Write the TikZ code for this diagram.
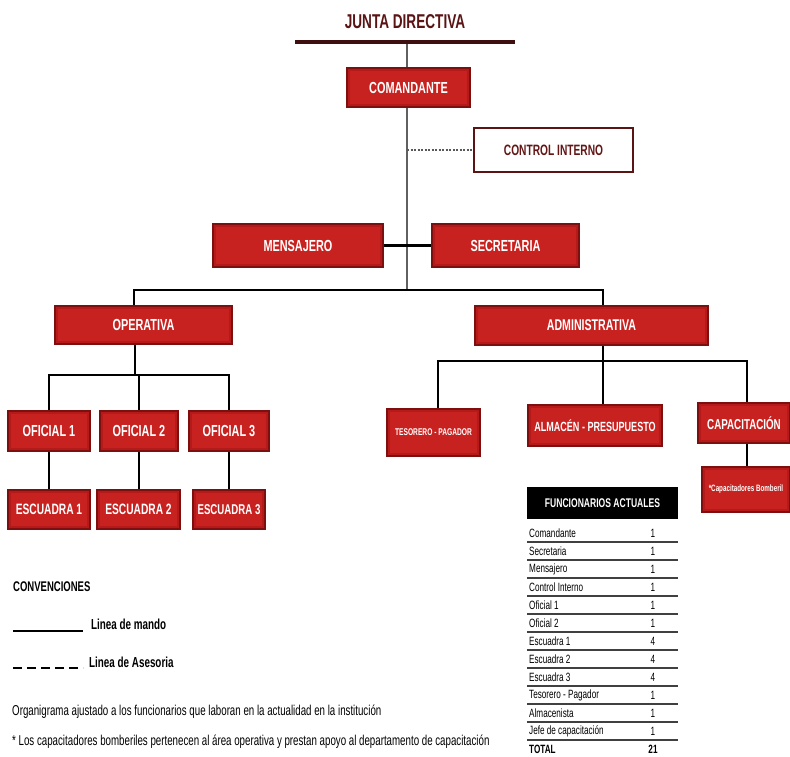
\documentclass[tikz,border=0pt]{standalone}
\usepackage{fontspec}
\setmainfont{Liberation Sans}
\newfontfamily\nar{Liberation Sans}[FakeStretch=0.68]
\usetikzlibrary{backgrounds}
\definecolor{boxred}{RGB}{200,34,32}
\definecolor{midred}{RGB}{180,26,25}
\definecolor{boxedge}{RGB}{125,15,15}
\definecolor{darkred}{RGB}{90,20,20}
\definecolor{ctrltext}{RGB}{100,22,22}
\newcommand{\fsz}[1]{\fontsize{#1}{#1}\selectfont}
\tikzset{
  box/.style={fill=boxred, draw=boxedge, line width=2.4pt, text=white, inner sep=0pt, font=\nar\bfseries\fsz{16},
    path picture={
      \fill[midred] (path picture bounding box.south west) rectangle (path picture bounding box.north east);
      \fill[boxred] ([xshift=3pt,yshift=3pt]path picture bounding box.south west) rectangle ([xshift=-3pt,yshift=-3pt]path picture bounding box.north east);
    }},
  ctrlbox/.style={fill=white, draw=darkred, line width=2.6pt, text=ctrltext, inner sep=0pt, font=\nar\bfseries\fsz{15}},
  cmd/.style={draw=black, line width=2.4pt},
  trunk/.style={draw=gray!75!black, line width=2.6pt},
  advice/.style={draw=gray!70!black, line width=1.2pt, dash pattern=on 2pt off 1.5pt},
  rowline/.style={draw=black!75, line width=1.3pt},
  rowtxt/.style={anchor=west, inner sep=0pt, font=\nar\fsz{12}},
  numtxt/.style={inner sep=0pt, font=\nar\fsz{12}},
  legtxt/.style={anchor=west, inner sep=0pt, font=\nar\bfseries\fsz{14.5}},
  foot/.style={anchor=west, inner sep=0pt, font=\nar\fsz{14.3}}
}
\begin{document}
\begin{tikzpicture}[x=1pt,y=-1pt]
\useasboundingbox (0,0) rectangle (790,757);

% title
\node[inner sep=0pt, text=darkred, font=\nar\bfseries\fsz{20}] (junta) at (405,22) {JUNTA DIRECTIVA};
\coordinate (jl) at (295,42);
\coordinate (jr) at (515,42);
\coordinate (jm) at (407,42);

% boxes
\node[box, minimum width=123pt, minimum height=39pt] (com) at (408.5,87.5) {COMANDANTE};
\node[ctrlbox, minimum width=159pt, minimum height=44pt] (ctrl) at (553.5,150) {CONTROL INTERNO};
\node[box, minimum width=170pt, minimum height=43pt] (mens) at (298,245.5) {MENSAJERO};
\node[box, minimum width=147pt, minimum height=43pt] (secr) at (505.5,245.5) {SECRETARIA};
\node[box, minimum width=177pt, minimum height=38pt] (oper) at (143.5,325) {OPERATIVA};
\node[box, minimum width=233pt, minimum height=39pt, font=\nar\bfseries\fsz{15.6}] (admin) at (591.5,325.5) {ADMINISTRATIVA};

\node[box, minimum width=82pt, minimum height=40pt] (of1) at (49,431) {OFICIAL 1};
\node[box, minimum width=78pt, minimum height=40pt] (of2) at (139,431) {OFICIAL 2};
\node[box, minimum width=80pt, minimum height=40pt] (of3) at (229,431) {OFICIAL 3};
\node[box, minimum width=82pt, minimum height=39pt, font=\nar\bfseries\fsz{15}] (esc1) at (49,509.5) {ESCUADRA 1};
\node[box, minimum width=83pt, minimum height=39pt, font=\nar\bfseries\fsz{15}] (esc2) at (138.5,509.5) {ESCUADRA 2};
\node[box, minimum width=72pt, minimum height=39pt, font=\nar\bfseries\fsz{14.2}] (esc3) at (229,509.5) {ESCUADRA 3};

\node[box, minimum width=93pt, minimum height=47pt, font=\nar\bfseries\fsz{9.8}] (teso) at (433.5,432.5) {TESORERO - PAGADOR};
\node[box, minimum width=134pt, minimum height=41pt, font=\nar\bfseries\fsz{13.3}] (alm) at (595,425.5) {ALMACÉN - PRESUPUESTO};
\node[box, minimum width=92pt, minimum height=40pt, font=\nar\bfseries\fsz{14.4}] (cap) at (744,423) {CAPACITACIÓN};
\node[box, minimum width=88pt, minimum height=45pt, font=\nar\bfseries\fsz{9.2}] (capb) at (746,489.5) {*Capacitadores Bomberil};

% bus coordinates
\coordinate (bl) at (134,290);
\coordinate (br) at (603,290);
\coordinate (ob) at (135,375);
\coordinate (ab) at (603,361);
\coordinate (ta) at (438,361);
\coordinate (ca) at (747,361);

\begin{scope}[on background layer]
  \fill[white] (0,0) rectangle (790,757);
  \draw[trunk] (jm) -- (jm |- bl);
  \draw[advice] (ctrl.west -| jm) -- (ctrl.west);
  \draw[cmd] (mens.east) -- (secr.west);
  \draw[cmd] (oper.north -| bl) -- (bl) -- (br) -- (admin.north -| br);
  \draw[cmd] (oper.south -| ob) -- (ob);
  \draw[cmd] (of1.north) -- (of1.north |- ob) -- (of3.north |- ob) -- (of3.north);
  \draw[cmd] (of2.north) -- (of2.north |- ob);
  \draw[cmd] (of1.south) -- (esc1.north);
  \draw[cmd] (of2.south) -- (esc2.north -| of2.south);
  \draw[cmd] (of3.south) -- (esc3.north);
  \draw[cmd] (admin.south -| ab) -- (ab);
  \draw[cmd] (teso.north -| ta) -- (ta) -- (ca) -- (cap.north -| ca);
  \draw[cmd] (alm.north -| ab) -- (ab);
  \draw[cmd] (cap.south -| ca) -- (capb.north -| ca);
\end{scope}
\draw[draw=darkred!70!black, line width=4pt] (jl) -- (jr);

% table
\node[fill=black, text=white, inner sep=0pt, minimum width=151pt, minimum height=32pt, font=\nar\bfseries\fsz{12.6}] (thead) at (602.5,503) {FUNCIONARIOS ACTUALES};
\foreach \name/\num [count=\i from 0] in {Comandante/1, Secretaria/1, Mensajero/1, Control Interno/1, Oficial 1/1, Oficial 2/1, Escuadra 1/4, Escuadra 2/4, Escuadra 3/4, Tesorero - Pagador/1, Almacenista/1, Jefe de capacitación/1}{
  \node[rowtxt] (r\i) at (529,533+18*\i) {\name};
  \node[numtxt] (n\i) at (653,533+18*\i) {\num};
  \draw[rowline] (527,542+18*\i) -- (678,542+18*\i);
}
\node[rowtxt, font=\nar\bfseries\fsz{12}] (rtot) at (529,749) {TOTAL};
\node[numtxt, font=\nar\bfseries\fsz{12}] (ntot) at (653,749) {21};

% legend
\node[legtxt, font=\nar\bfseries\fsz{14}] (conv) at (13,587) {CONVENCIONES};
\draw[draw=black, line width=1.8pt] (13,631) -- (83,631);
\node[legtxt] (lm) at (91,624) {Linea de mando};
\draw[draw=black, line width=1.8pt, dash pattern=on 9pt off 5pt] (13,668) -- (83,668);
\node[legtxt] (la) at (89,662) {Linea de Asesoria};
\node[foot] (f1) at (12,712) {Organigrama ajustado a los funcionarios que laboran en la actualidad en la institución};
\node[foot] (f2) at (12,742) {* Los capacitadores bomberiles pertenecen al área operativa y prestan apoyo al departamento de capacitación};
\end{tikzpicture}
\end{document}
